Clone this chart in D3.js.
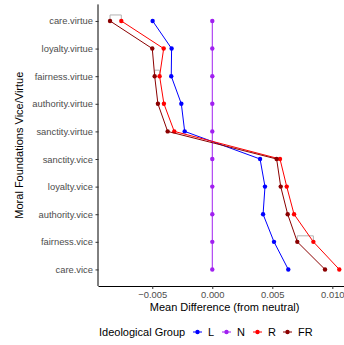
<!DOCTYPE html>
<html>
<head>
<meta charset="utf-8">
<script src="https://cdn.jsdelivr.net/npm/d3@7"></script>
<style>
  html, body { margin: 0; padding: 0; background: #fff; }
  svg { display: block; }
  text { font-family: "Liberation Sans", Arial, sans-serif; }
</style>
</head>
<body>
<svg id="chart" width="344" height="345"></svg>
<script>
// Moral foundation categories, top to bottom
const categories = [
  "care.virtue", "loyalty.virtue", "fairness.virtue", "authority.virtue", "sanctity.virtue",
  "sanctity.vice", "loyalty.vice", "authority.vice", "fairness.vice", "care.vice"
];

// Mean difference from neutral, per ideological group
const groups = ["L", "N", "R", "FR"];
const valuesL  = [-0.00497, -0.00339, -0.00342, -0.00258, -0.00230, 0.00398, 0.00439, 0.00423, 0.00514, 0.00633];
const valuesN  = [0, 0, 0, 0, 0, 0, 0, 0, 0, 0];
const valuesR  = [-0.00758, -0.00405, -0.00439, -0.00403, -0.00317, 0.00564, 0.00620, 0.00681, 0.00842, 0.01058];
const valuesFR = [-0.00852, -0.00500, -0.00480, -0.00453, -0.00372, 0.00536, 0.00570, 0.00628, 0.00708, 0.00939];

// Bracket annotations between the FR and R points
const bracketCategories = ["care.virtue", "fairness.virtue", "fairness.vice"];
const bracketFrom = [-0.00852, -0.00480, 0.00708];
const bracketTo   = [-0.00758, -0.00439, 0.00842];

const xTicks = [-0.005, 0.000, 0.005, 0.010];

const groupColors = { L: "#0000FF", N: "#A020F0", R: "#FF0000", FR: "#8B0000" };
const seriesValues = { L: valuesL, N: valuesN, R: valuesR, FR: valuesFR };

const svg = d3.select("#chart");

const panel = { left: 98.5, right: 350.7, top: 4.4, bottom: 286 };

const x = d3.scaleLinear().domain([-0.00948, 0.01153]).range([panel.left, panel.right]);
const y = d3.scalePoint().domain(categories).range([panel.top, panel.bottom]).padding(0.6);

// Brackets (drawn underneath the series)
const bg = svg.append("g");
bracketCategories.forEach((c, i) => {
  const yy = y(c);
  const x1 = x(bracketFrom[i]), x2 = x(bracketTo[i]);
  bg.append("path")
    .attr("d", `M${x1},${yy}V${yy - 6}H${x2}V${yy}`)
    .attr("fill", "none")
    .attr("stroke", "#b3b3b3")
    .attr("stroke-width", 1);
});

// Series paths and points
const line = d3.line().x(d => x(d.v)).y(d => y(d.c));
groups.forEach(g => {
  const pts = categories.map((c, i) => ({ c, v: seriesValues[g][i] }));
  const sg = svg.append("g");
  sg.append("path")
    .datum(pts)
    .attr("d", line)
    .attr("fill", "none")
    .attr("stroke", groupColors[g])
    .attr("stroke-width", 1);
  sg.selectAll("circle").data(pts).join("circle")
    .attr("cx", d => x(d.v))
    .attr("cy", d => y(d.c))
    .attr("r", 2.2)
    .attr("fill", groupColors[g]);
});

// Axes
const axisColor = "#000";
const tickTextColor = "#4d4d4d";

const xAxis = svg.append("g")
  .attr("transform", `translate(0,${panel.bottom})`)
  .call(d3.axisBottom(x).tickValues(xTicks).tickFormat(d3.format(".3f")).tickSize(3).tickPadding(2.5));
xAxis.select(".domain").attr("d", `M${panel.left},0.5H${panel.right}`).attr("stroke", axisColor);
xAxis.selectAll(".tick line").attr("stroke", "#333");
xAxis.selectAll(".tick text")
  .attr("fill", tickTextColor)
  .style("font-size", "9.4px")
  .text(d => d < 0 ? "\u2212" + d3.format(".3f")(-d) : d3.format(".3f")(d));

const yAxis = svg.append("g")
  .attr("transform", `translate(${panel.left},0)`)
  .call(d3.axisLeft(y).tickSize(3).tickPadding(2.5));
yAxis.select(".domain").attr("d", `M-0.5,${panel.top}V${panel.bottom}`).attr("stroke", axisColor);
yAxis.selectAll(".tick line").attr("stroke", "#333");
yAxis.selectAll(".tick text")
  .attr("fill", tickTextColor)
  .style("font-size", "9.4px");

// Axis titles
svg.append("text")
  .attr("x", (panel.left + panel.right) / 2)
  .attr("y", 311)
  .attr("text-anchor", "middle")
  .style("font-size", "11px")
  .attr("fill", "#000")
  .text("Mean Difference (from neutral)");

svg.append("text")
  .attr("transform", `translate(23,${(panel.top + panel.bottom) / 2}) rotate(-90)`)
  .attr("text-anchor", "middle")
  .style("font-size", "11px")
  .attr("fill", "#000")
  .text("Moral Foundations Vice/Virtue");

// Legend
const legendY = 332;
svg.append("text")
  .attr("x", 99)
  .attr("y", legendY + 4)
  .style("font-size", "11px")
  .attr("fill", "#000")
  .text("Ideological Group");

const keyX = [193, 222, 253, 283];
groups.forEach((g, i) => {
  const k = svg.append("g").attr("transform", `translate(${keyX[i]},${legendY})`);
  k.append("line").attr("x1", 0).attr("x2", 9).attr("y1", 0).attr("y2", 0)
    .attr("stroke", groupColors[g]).attr("stroke-width", 1);
  k.append("circle").attr("cx", 4.5).attr("cy", 0).attr("r", 2.2).attr("fill", groupColors[g]);
  k.append("text").attr("x", 15).attr("y", 4)
    .style("font-size", "11px").attr("fill", "#000").text(g);
});
</script>
</body>
</html>
